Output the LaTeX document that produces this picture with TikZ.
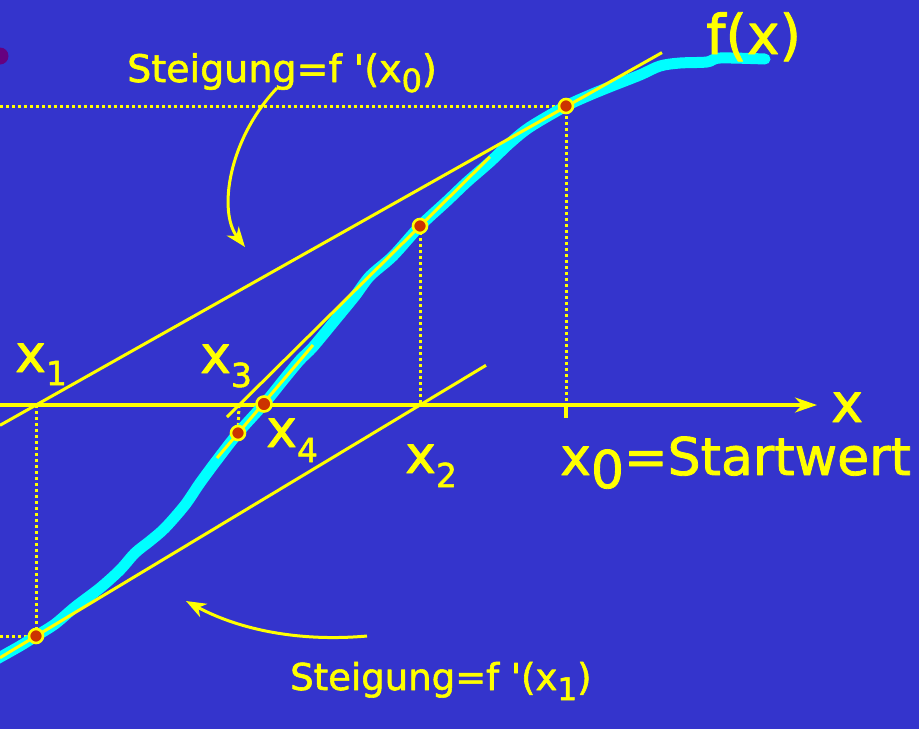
\documentclass[tikz,border=0pt]{standalone}
\usepackage{fontspec}
\setmainfont{DejaVu Sans}[FakeBold=1.6]
\usetikzlibrary{arrows.meta}
\definecolor{bg}{RGB}{52,52,204}
\definecolor{yel}{RGB}{255,255,0}
\definecolor{cy}{RGB}{0,255,255}
\definecolor{ptred}{RGB}{204,51,0}
\definecolor{purp}{RGB}{102,0,128}
\begin{document}
\begin{tikzpicture}[x=1pt,y=-1pt,line join=round,
 tang/.style={draw=yel,line width=3pt},
 dotline/.style={draw=yel,line width=3pt,dash pattern=on 3pt off 3pt},
 lbl/.style={text=yel,inner sep=0pt,anchor=base west},
 ptmark/.style={circle,fill=ptred,draw=yel,line width=2.6pt,minimum size=14pt,inner sep=0pt},
 note/.style={draw=yel,line width=3pt,-{Stealth[length=20pt,width=15pt,inset=6pt]}},
 axisline/.style={draw=yel,line width=3.2pt,-{Stealth[length=22pt,width=15pt,inset=7pt]}}]
\useasboundingbox (0,0) rectangle (919,729);
\fill[bg] (0,0) rectangle (919,729);
\fill[purp] (0,56) circle (8.5);
% points
\coordinate (P0) at (566,106);
\coordinate (P1) at (36,636);
\coordinate (P2) at (420,226);
\coordinate (P3) at (238,433);
\coordinate (P4) at (264,404);
\coordinate (X0) at (566,405);
\coordinate (X0t) at (566,418);
\coordinate (X1) at (36,405);
\coordinate (X2) at (420,405);
\coordinate (X3) at (239,405);
\coordinate (L0) at (0,106);
\coordinate (L1) at (0,636);
\coordinate (A0) at (0,405);
\coordinate (A1) at (817,405);
\coordinate (T0a) at (0,425.3);
\coordinate (T0b) at (662,52.6);
\coordinate (T1a) at (0,657.7);
\coordinate (T1b) at (486,365.3);
\coordinate (T2a) at (227,417);
\coordinate (T2b) at (490,156.8);
\coordinate (T3a) at (217,458);
\coordinate (T3b) at (313,345);
% dotted guides
\draw[dotline] (L0) -- (P0) -- (X0);
\draw[dotline] (P2) -- (X2);
\draw[dotline] (X1) -- (P1) -- (L1);
\draw[dotline] (X3) -- (P3);
% axis
\draw[axisline] (A0) -- (A1);
\draw[yel,line width=3.2pt] (X0) -- (X0t);
% curve
\draw[cy,line width=11pt,line cap=round,line join=round] plot[smooth,tension=0.5] coordinates {
(-5,660) (20,646) (36,636) (55,624) (75,607) (100,588) (120,570) (135,553) (150,541) (165,528)
(185,505) (200,483) (217,460) (238,433) (264,404) (285,378) (300,360) (313,347) (337,318)
(355,296) (370,276) (393,256) (420,226) (447,201) (467,182) (490,162) (510,143) (530,127)
(566,106) (590,95) (612,86) (640,75) (660,66) (680,63) (707,62) (720,58) (765,59)};
% tangents
\draw[tang] (T0a) -- (T0b);
\draw[tang] (T1a) -- (T1b);
\draw[tang] (T2a) -- (T2b);
\draw[tang] (T3a) -- (T3b);
% iteration points
\node[ptmark] (p0) at (P0) {};
\node[ptmark] (p1) at (P1) {};
\node[ptmark] (p2) at (P2) {};
\node[ptmark] (p3) at (P3) {};
\node[ptmark,minimum size=15pt] (p4) at (P4) {};
% labels
\node[lbl,font=\fontsize{38}{38}\selectfont] (s0) at (127,82) {Steigung=f \textquotesingle(x\raisebox{-10pt}{\fontsize{32}{32}\selectfont 0})};
\node[lbl,font=\fontsize{37}{37}\selectfont] (s1) at (290,690) {Steigung=f \textquotesingle(x\raisebox{-10pt}{\fontsize{31}{31}\selectfont 1})};
\node[lbl,font=\fontsize{55}{55}\selectfont] (fx) at (706,54) {f(x)};
\node[lbl,font=\fontsize{54}{54}\selectfont] (xl) at (831,422) {x};
\node[lbl,font=\fontsize{52}{52}\selectfont] (xs) at (560,475) {x\raisebox{-13pt}{0}=Startwert};
\node[lbl,font=\fontsize{52}{52}\selectfont] (x1) at (15,372) {x\raisebox{-13pt}{\fontsize{33}{33}\selectfont 1}};
\node[lbl,font=\fontsize{52}{52}\selectfont] (x3) at (200,373) {x\raisebox{-14pt}{\fontsize{33}{33}\selectfont 3}};
\node[lbl,font=\fontsize{52}{52}\selectfont] (x4) at (266,447) {x\raisebox{-15pt}{\fontsize{33}{33}\selectfont 4}};
\node[lbl,font=\fontsize{52}{52}\selectfont] (x2) at (405,473) {x\raisebox{-14pt}{\fontsize{33}{33}\selectfont 2}};
% annotation arrows
\coordinate (a0s) at (277,88);
\coordinate (a0e) at (245,247);
\coordinate (a1s) at (367,636);
\coordinate (a1e) at (186,601);
\draw[note] (a0s) .. controls (228,140) and (218,212) .. (a0e);
\draw[note] (a1s) .. controls (300,642) and (240,630) .. (a1e);
\end{tikzpicture}
\end{document}
